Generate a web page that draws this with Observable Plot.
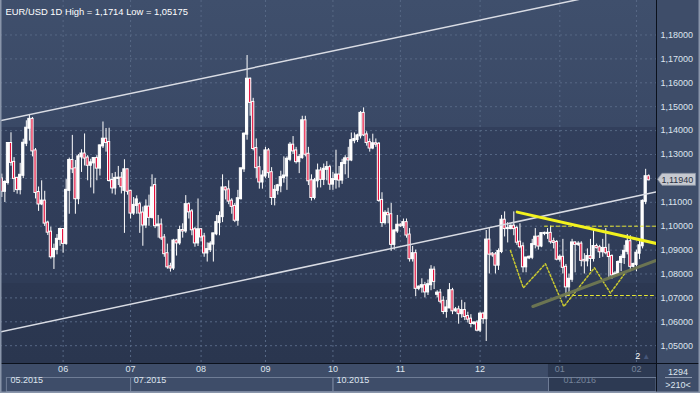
<!DOCTYPE html>
<html><head><meta charset="utf-8">
<script src="https://cdn.jsdelivr.net/npm/d3@7"></script>
<script src="https://cdn.jsdelivr.net/npm/@observablehq/plot@0.6"></script>
<style>
html,body{margin:0;padding:0;background:#3e4d69;}
#chart{width:700px;height:393px;overflow:hidden;}
svg{display:block;}
</style></head><body><div id="chart"></div>
<script>
// ---- OHLC, one bar per session (May 2015 .. Feb 2016) ----
const open = [
1.1198,1.1146,1.1183,1.1346,1.1267,1.1200,1.1153,1.1213,1.1347,1.1410,1.1447,1.1315,1.1141,1.1093,1.1105,1.1013,1.0975,1.0872,1.0903,1.0945,
1.0986,1.0928,1.1150,1.1275,1.1240,1.1115,1.1290,1.1302,1.1285,1.1255,1.1265,1.1283,1.1243,1.1336,1.1364,1.1350,1.1191,1.1160,1.1200,1.1201,1.1150,1.1236,
1.1146,1.1055,1.1087,1.1090,1.1055,1.1005,1.1080,1.1037,1.1170,1.1002,1.1005,1.0951,1.0885,1.0830,1.0825,1.0938,1.0930,1.0982,1.0980,1.1090,1.1060,1.0985,1.0930,
1.0985,1.0955,1.0888,1.0902,1.0925,1.0968,1.1015,1.1040,1.1160,1.1152,1.1105,1.1083,1.1025,1.1115,1.1240,1.1385,1.1615,1.1518,1.1325,1.1245,1.1185,
1.1210,1.1315,1.1224,1.1120,1.1150,1.1169,1.1203,1.1210,1.1280,1.1339,1.1315,1.1270,1.1287,1.1441,1.1301,1.1190,1.1120,1.1190,1.1231,1.1196,1.1238,1.1245,
1.1176,1.1195,1.1214,1.1193,1.1262,1.1282,1.1277,1.1358,1.1363,1.1378,1.1472,1.1382,1.1350,1.1327,1.1345,1.1343,1.1108,1.1015,1.1054,1.1048,1.0924,1.0980,
1.1004,1.1002,1.1015,1.0963,1.0864,1.0885,1.0740,1.0745,1.0751,1.0725,1.0755,1.0816,1.0715,1.0720,1.0686,1.0643,1.0658,1.0730,1.0646,1.0650,1.0634,1.0647,1.0622,1.0611,1.0593,1.0595,
1.0565,1.0632,1.0613,1.0942,1.0883,1.0880,1.0837,1.0894,1.1025,1.0990,1.0990,1.1000,1.0990,1.0933,1.0914,1.0830,1.0867,1.0870,1.0923,1.0954,1.0917,1.0969,1.0970,1.0970,1.0935,1.0932,
1.0862,1.0870,1.0828,1.0746,1.0778,1.0930,1.0924,1.0925,1.0857,1.0855,1.0873,1.0865,1.0915,1.0910,1.0893,1.0907,1.0889,1.0873,1.0796,1.0800,1.0848,1.0869,1.0895,1.0935,1.0832,
1.0840,1.0887,1.0918,1.1104,1.1207];
const high = [
1.1218,1.1190,1.1350,1.1391,1.1287,1.1205,1.1263,1.1364,1.1441,1.1467,1.1455,1.1325,1.1164,1.1190,1.1146,1.1021,1.0996,1.0925,1.0965,1.0992,
1.0990,1.1195,1.1285,1.1380,1.1275,1.1300,1.1320,1.1386,1.1295,1.1280,1.1285,1.1295,1.1340,1.1436,1.1409,1.1410,1.1220,1.1225,1.1250,1.1225,1.1278,1.1238,
1.1150,1.1120,1.1127,1.1100,1.1080,1.1110,1.1130,1.1215,1.1200,1.1045,1.1030,1.0965,1.0925,1.0845,1.0945,1.0945,1.1000,1.1010,1.1128,1.1098,1.1070,1.0995,1.1114,
1.0990,1.0970,1.0930,1.0935,1.0970,1.1045,1.1060,1.1215,1.1165,1.1190,1.1115,1.1095,1.1150,1.1243,1.1390,1.1714,1.1620,1.1535,1.1365,1.1290,1.1232,
1.1330,1.1325,1.1245,1.1170,1.1175,1.1230,1.1290,1.1290,1.1350,1.1375,1.1330,1.1300,1.1460,1.1460,1.1330,1.1215,1.1200,1.1260,1.1245,1.1260,1.1270,1.1255,
1.1225,1.1318,1.1250,1.1280,1.1295,1.1330,1.1390,1.1390,1.1385,1.1480,1.1495,1.1395,1.1365,1.1385,1.1365,1.1350,1.1140,1.1065,1.1075,1.1095,1.0985,1.1045,
1.1010,1.1030,1.1030,1.0990,1.0915,1.0900,1.0750,1.0780,1.0765,1.0775,1.0835,1.0830,1.0730,1.0735,1.0705,1.0690,1.0760,1.0740,1.0660,1.0665,1.0690,1.0680,1.0640,1.0630,1.0600,1.0605,
1.0640,1.0640,1.0982,1.0990,1.0890,1.0890,1.0905,1.1045,1.1060,1.1015,1.1005,1.1060,1.1000,1.1010,1.0930,1.0870,1.0875,1.0945,1.0990,1.0960,1.0970,1.0975,1.0990,1.1000,1.0950,1.0940,
1.0880,1.0945,1.0840,1.0800,1.0945,1.0935,1.0935,1.0935,1.0885,1.0905,1.0945,1.0985,1.0925,1.0920,1.0945,1.0990,1.0925,1.0880,1.0810,1.0855,1.0880,1.0920,1.0965,1.0960,1.0845,
1.0900,1.0940,1.1110,1.1238,1.1215];
const low = [
1.1120,1.1099,1.1172,1.1251,1.1141,1.1134,1.1131,1.1199,1.1333,1.1356,1.1290,1.1114,1.1062,1.1086,1.0999,1.0961,1.0862,1.0819,1.0880,1.0916,
1.0887,1.0920,1.1050,1.1220,1.1050,1.1090,1.1225,1.1252,1.1190,1.1160,1.1135,1.1190,1.1210,1.1325,1.1310,1.1185,1.1135,1.1130,1.1170,1.1135,1.0970,1.1130,
1.1030,1.1045,1.1050,1.0970,1.0916,1.0990,1.1000,1.1030,1.0990,1.0950,1.0940,1.0870,1.0820,1.0808,1.0815,1.0875,1.0920,1.0950,1.0970,1.1030,1.0960,1.0912,1.0915,
1.0935,1.0870,1.0850,1.0890,1.0850,1.0960,1.0960,1.1015,1.1110,1.1090,1.1050,1.1015,1.1000,1.1110,1.1225,1.1360,1.1460,1.1315,1.1200,1.1155,1.1155,
1.1200,1.1200,1.1087,1.1085,1.1130,1.1140,1.1180,1.1150,1.1270,1.1300,1.1260,1.1220,1.1280,1.1290,1.1170,1.1105,1.1110,1.1160,1.1160,1.1170,1.1190,1.1150,
1.1150,1.1155,1.1160,1.1175,1.1215,1.1200,1.1270,1.1345,1.1350,1.1365,1.1375,1.1335,1.1310,1.1320,1.1330,1.1100,1.0995,1.1005,1.1010,1.0895,1.0900,1.0970,
1.0995,1.0990,1.0950,1.0850,1.0850,1.0705,1.0730,1.0720,1.0700,1.0710,1.0730,1.0735,1.0700,1.0675,1.0630,1.0615,1.0655,1.0630,1.0640,1.0590,1.0615,1.0605,1.0595,1.0575,1.0585,1.0558,
1.0555,1.0590,1.05175,1.0800,1.0870,1.0800,1.0815,1.0885,1.0955,1.0930,1.0985,1.0960,1.0920,1.0905,1.0805,1.0805,1.0860,1.0860,1.0905,1.0900,1.0910,1.0960,1.0945,1.0925,1.0905,1.0855,
1.0850,1.0800,1.0700,1.0710,1.0765,1.0805,1.0915,1.0830,1.0800,1.0830,1.0810,1.0850,1.0905,1.0865,1.0870,1.0880,1.0780,1.0778,1.0790,1.0795,1.0810,1.0840,1.0880,1.0810,1.0825,
1.0810,1.0860,1.0905,1.1090,1.1190];
const close = [
1.1146,1.1183,1.1346,1.1267,1.1200,1.1153,1.1213,1.1347,1.1410,1.1447,1.1315,1.1141,1.1093,1.1105,1.1013,1.0975,1.0872,1.0903,1.0945,1.0986,
1.0928,1.1150,1.1275,1.1240,1.1115,1.1290,1.1302,1.1285,1.1255,1.1265,1.1283,1.1243,1.1336,1.1364,1.1350,1.1191,1.1160,1.1200,1.1201,1.1165,1.1236,1.1146,
1.1055,1.1087,1.1110,1.1055,1.1005,1.1080,1.1037,1.1160,1.1002,1.1005,1.0951,1.0885,1.0830,1.0825,1.0938,1.0930,1.0982,1.0980,1.1090,1.1060,1.0985,1.0930,1.0985,
1.0955,1.0888,1.0902,1.0925,1.0968,1.1015,1.1040,1.1160,1.1152,1.1105,1.1083,1.1025,1.1115,1.1240,1.1385,1.1615,1.1518,1.1325,1.1245,1.1185,1.1210,
1.1315,1.1224,1.1120,1.1150,1.1169,1.1203,1.1210,1.1280,1.1339,1.1315,1.1270,1.1287,1.1441,1.1301,1.1190,1.1120,1.1190,1.1231,1.1196,1.1238,1.1245,1.1176,
1.1195,1.1214,1.1193,1.1262,1.1282,1.1277,1.1358,1.1363,1.1378,1.1472,1.1382,1.1350,1.1327,1.1345,1.1343,1.1108,1.1015,1.1054,1.1048,1.0924,1.0980,1.1004,
1.1002,1.1015,1.0963,1.0864,1.0885,1.0740,1.0745,1.0751,1.0725,1.0755,1.0816,1.0769,1.0720,1.0686,1.0643,1.0658,1.0730,1.0646,1.0650,1.0634,1.0647,1.0622,1.0611,1.0593,1.0595,1.0565,
1.0632,1.0613,1.0942,1.0883,1.0880,1.0837,1.0894,1.1025,1.0990,1.0990,1.1000,1.0990,1.0933,1.0914,1.0830,1.0867,1.0870,1.0923,1.0954,1.0917,1.0969,1.0970,1.0970,1.0935,1.0932,1.0862,
1.0870,1.0828,1.0746,1.0778,1.0930,1.0924,1.0925,1.0857,1.0855,1.0873,1.0865,1.0915,1.0910,1.0893,1.0907,1.0889,1.0873,1.0796,1.0800,1.0848,1.0869,1.0895,1.0935,1.0832,1.0840,
1.0887,1.0918,1.1104,1.1207,1.1194];

// ---- axes ----
const priceTicks = [1.05,1.06,1.07,1.08,1.09,1.10,1.11,1.12,1.13,1.14,1.15,1.16,1.17,1.18];
const monthTickIndex = [20, 42, 65, 86, 108, 130, 156, 182, 207];
const monthTickLabel = ["06","07","08","09","10","11","12","01","02"];
const monthDim = [false,false,false,false,false,false,false,true,true];
const quarterStart = [1.5, 42, 108, 178.3];
const quarterEnd = [42, 108, 178.3, 213.4];
const quarterTextAt = [2.8, 43.0, 109.2, 183.2];
const quarterLabel = ["05.2015","07.2015","10.2015","01.2016"];
const titleText = "EUR/USD 1D High = 1,1714 Low = 1,05175";
const lastPrice = 1.1194;

// ---- drawn objects (bar index, price) ----
const upperChannelI = [-2, 195.3], upperChannelP = [1.1437, 1.1968];
const lowerChannelI = [-2, 214.8], lowerChannelP = [1.0553, 1.1147];
const yellowLineI = [168.1, 214.8], yellowLineP = [1.1059, 1.0924];
const oliveLineI = [173.2, 214.8], oliveLineP = [1.0664, 1.0863];
const zigzagI = [165.9, 170.1, 177.3, 183.3, 193.3, 198.5, 203.4];
const zigzagP = [1.0898, 1.0742, 1.0843, 1.0664, 1.0826, 1.0720, 1.0806];
const levelTopI = [177, 214.8], levelTopP = 1.1000;
const levelBotI = [182.2, 214.8], levelBotP = 1.0710;
const markerIndex = 207.4;

const rows = open.map((o, i) => ({i, o, h: high[i], l: low[i], c: close[i]}));
const ups = rows.filter(d => d.c >= d.o);
const downs = rows.filter(d => d.c < d.o);
const pts = (I, P) => I.map((i, k) => ({i, p: Array.isArray(P) ? P[k] : P}));
const fmt = d => d.toFixed(5).replace(".", ",");
const months = monthTickIndex.map((i, k) => ({i, label: monthTickLabel[k], dim: monthDim[k]}));
const quarters = quarterStart.map((s, k) => ({s, e: quarterEnd[k], t: quarterTextAt[k], label: quarterLabel[k]}));
// the price tag hides the axis label it sits on
const shownTicks = priceTicks.filter(t => Math.abs(t - lastPrice) > 0.004);

const GRID = "#576885";
const plot = Plot.plot({
  width: 700, height: 393,
  marginTop: 0, marginRight: 43, marginBottom: 30, marginLeft: 0,
  x: {domain: [-0.424, 213.86], axis: null},
  y: {domain: [1.042552, 1.194435], axis: null},
  style: {background: "transparent", fontFamily: "'Liberation Sans', Arial, sans-serif", fontSize: "9px", color: "#dde4ee", overflow: "visible"},
  marks: [
    Plot.ruleY(priceTicks, {stroke: GRID, strokeDasharray: "2,3"}),
    Plot.ruleX(monthTickIndex, {stroke: GRID, strokeDasharray: "2,3"}),
    Plot.text(shownTicks, {y: d => d, text: fmt, frameAnchor: "right", dx: 3, textAnchor: "start", fill: "#dde4ee", fontSize: 9}),
    Plot.text(months.filter(d => !d.dim), {x: "i", text: "label", frameAnchor: "bottom", dy: 8.5, fill: "#dde4ee", fontSize: 9}),
    Plot.text(months.filter(d => d.dim), {x: "i", text: "label", frameAnchor: "bottom", dy: 8.5, fill: "#76849a", fontSize: 9}),
    Plot.text(quarters.slice(0, 3), {x: "t", text: "label", frameAnchor: "bottom", dy: 19.5, textAnchor: "start", fill: "#dde4ee", fontSize: 9}),
    Plot.text(quarters.slice(3), {x: "t", text: "label", frameAnchor: "bottom", dy: 19.5, textAnchor: "start", fill: "#76849a", fontSize: 9}),
    // candles
    Plot.ruleX(rows, {x: "i", y1: "l", y2: "h", stroke: "#ffffff", strokeWidth: 1}),
    Plot.rect(ups, {x1: d => d.i - 0.36, x2: d => d.i + 0.36, y1: "o", y2: "c", fill: "#ffffff", stroke: "#ffffff", strokeWidth: 1, insetTop: -0.5, insetBottom: -0.5}),
    Plot.rect(downs, {x1: d => d.i - 0.36, x2: d => d.i + 0.36, y1: "c", y2: "o", fill: "#e5103c", stroke: "#ffffff", strokeWidth: 1, insetTop: -0.5, insetBottom: -0.5}),
    // drawn lines
    Plot.line(pts(upperChannelI, upperChannelP), {x: "i", y: "p", stroke: "#d9dce4", strokeWidth: 1.5, clip: true}),
    Plot.line(pts(lowerChannelI, lowerChannelP), {x: "i", y: "p", stroke: "#d9dce4", strokeWidth: 1.5, clip: true}),
    Plot.line(pts(levelTopI, levelTopP), {x: "i", y: "p", stroke: "#e6e632", strokeWidth: 1, strokeDasharray: "3,3", clip: true}),
    Plot.line(pts(levelBotI, levelBotP), {x: "i", y: "p", stroke: "#e6e632", strokeWidth: 1, strokeDasharray: "3,3", clip: true}),
    Plot.line(pts(zigzagI, zigzagP), {x: "i", y: "p", stroke: "#c9c930", strokeWidth: 1.5, strokeDasharray: "2,2", clip: true}),
    Plot.line(pts(oliveLineI, oliveLineP), {x: "i", y: "p", stroke: "#6f7752", strokeOpacity: 0.95, strokeWidth: 3, clip: true}),
    Plot.line(pts(yellowLineI, yellowLineP), {x: "i", y: "p", stroke: "#f2f21e", strokeWidth: 3, clip: true}),
    // texts
    Plot.text([titleText], {text: d => d, frameAnchor: "top-left", dx: 5, dy: 8, textAnchor: "start", fill: "#ffffff", fontSize: 9.4}),
    Plot.text([markerIndex], {x: d => d, text: () => "2", frameAnchor: "bottom", dy: -5, fill: "#ffffff", fontSize: 9}),
    Plot.text([markerIndex + 2.8], {x: d => d, text: () => "\u25B2", frameAnchor: "bottom", dy: -5, fill: "#46577a", fontSize: 8})
  ]
});
document.getElementById("chart").appendChild(plot);

// ---- chrome drawn with the plot's own scales ----
const sx = plot.scale("x"), sy = plot.scale("y");
const svg = d3.select(plot);
const defs = svg.insert("defs", ":first-child");
const grad = defs.append("linearGradient").attr("id", "bgGrad").attr("x1", 0).attr("y1", 0).attr("x2", 0).attr("y2", 1);
[[0, "#3f4f6c"], [0.349, "#3a4966"], [0.35, "#323f5c"], [0.78, "#2f3c57"], [0.781, "#2c3852"], [1, "#2a364f"]]
  .forEach(([o, c]) => grad.append("stop").attr("offset", o).attr("stop-color", c));
const back = svg.insert("g", "defs + *");
back.append("rect").attr("x", 0).attr("y", 0).attr("width", sx.apply(213.86)).attr("height", sy.apply(1.042552)).attr("fill", "url(#bgGrad)");
const xr = sx.apply(178.3), xe = sx.apply(213.86);
back.append("rect").attr("x", xr).attr("y", 363).attr("width", xe - xr).attr("height", 30).attr("fill", "#2d3a53");
quarters.forEach(q => {
  const a = sx.apply(q.s), b = sx.apply(q.e);
  back.append("rect").attr("x", a + 0.5).attr("y", 377.5).attr("width", b - a).attr("height", 14)
    .attr("fill", "none").attr("stroke", "#6f7d96").attr("stroke-width", 1);
});
// separators and frame
const fg = svg.append("g").attr("text-anchor", "start");
fg.append("line").attr("x1", 0).attr("x2", 700).attr("y1", 363.5).attr("y2", 363.5).attr("stroke", "#0b111c");
fg.append("line").attr("x1", 656.5).attr("x2", 656.5).attr("y1", 0).attr("y2", 393).attr("stroke", "#0b111c");
fg.append("rect").attr("x", 0.75).attr("y", -2).attr("width", 698.5).attr("height", 394.25).attr("fill", "none").attr("stroke", "#8995aa").attr("stroke-width", 1.5);
// right bottom info
fg.append("text").attr("x", 678).attr("y", 374.5).attr("text-anchor", "middle").attr("fill", "#dde4ee").attr("font-size", 9).text("1294");
fg.append("line").attr("x1", 665).attr("x2", 692).attr("y1", 377.5).attr("y2", 377.5).attr("stroke", "#8e9ab0");
fg.append("text").attr("x", 678).attr("y", 387.5).attr("text-anchor", "middle").attr("fill", "#dde4ee").attr("font-size", 9).text(">210<");
// current price tag
const py = sy.apply(lastPrice);
fg.append("polygon").attr("points", `657.5,${py} 662,${py - 6} 695.5,${py - 6} 695.5,${py + 6} 662,${py + 6}`)
  .attr("fill", "#c6c9d0").attr("stroke", "#8a93a4").attr("stroke-width", 0.8);
fg.append("text").attr("x", 661.5).attr("y", py + 3.3).attr("text-anchor", "start").attr("fill", "#2a3142").attr("font-size", 9).text(fmt(lastPrice));
</script>
</body></html>
